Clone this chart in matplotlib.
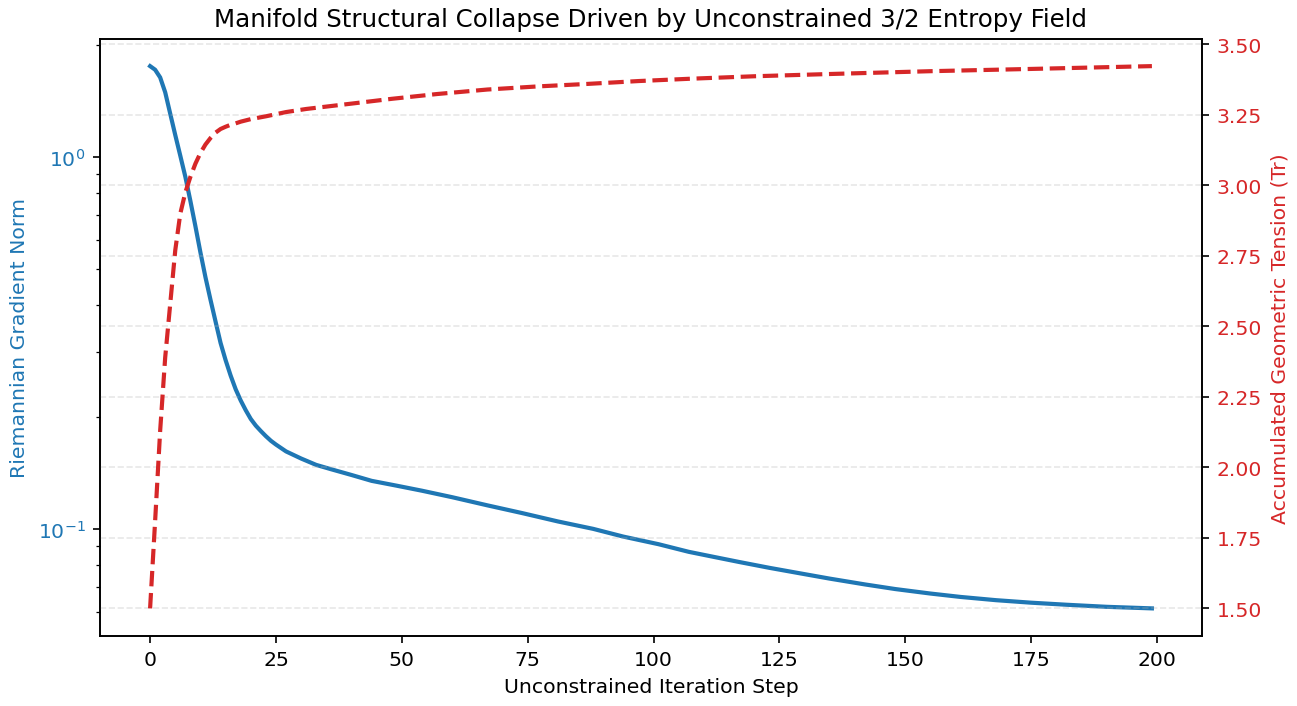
import matplotlib.pyplot as plt

# Riemannian gradient norm (left, log scale)
grad_steps = [0, 1, 2, 3, 4, 5, 6, 7, 8, 9, 10, 11, 12, 13, 14, 15, 16, 17, 18,
              19, 20, 21, 22, 23, 24, 25, 27, 30, 33, 36, 40, 44, 49, 54, 60,
              67, 74, 81, 88, 94, 101, 107, 112, 117, 123, 129, 135, 142, 148,
              155, 161, 168, 175, 182, 190, 199]
grad_norm = [1.759, 1.72, 1.64, 1.496, 1.31, 1.148, 1.01, 0.887, 0.764, 0.653,
             0.555, 0.476, 0.414, 0.362, 0.317, 0.285, 0.259, 0.238, 0.222,
             0.209, 0.198, 0.19, 0.1837, 0.178, 0.173, 0.169, 0.162, 0.155,
             0.149, 0.145, 0.14, 0.135, 0.131, 0.127, 0.122, 0.116, 0.1105,
             0.105, 0.1003, 0.0956, 0.0912, 0.087, 0.0843, 0.0817, 0.0788,
             0.0762, 0.0737, 0.0711, 0.0691, 0.0672, 0.0658, 0.0645, 0.0635,
             0.0627, 0.0619, 0.0613]

# Accumulated geometric tension (right, linear)
tension_steps = [0, 1, 2, 3, 4, 5, 6, 7, 8, 9, 10, 11, 12, 13, 14, 15, 16, 17,
                 18, 20, 23, 27, 31, 40, 48, 57, 67, 77, 87, 97, 107, 120, 135,
                 155, 175, 199]
tension = [1.5, 1.81, 2.13, 2.39, 2.58, 2.77, 2.9, 2.975, 3.03, 3.077, 3.115,
           3.145, 3.168, 3.187, 3.2, 3.208, 3.215, 3.22, 3.226, 3.235, 3.245,
           3.26, 3.271, 3.29, 3.307, 3.324, 3.34, 3.351, 3.36, 3.37, 3.378,
           3.387, 3.395, 3.405, 3.413, 3.423]

BLUE = "#1f77b4"
RED = "#d62728"

plt.rcParams["font.size"] = 9.8

fig, ax1 = plt.subplots(figsize=(1297 / 150, 707 / 150), dpi=150)
fig.subplots_adjust(left=100 / 1297, right=1202 / 1297, top=1 - 40 / 707, bottom=1 - 636.5 / 707)

ax1.plot(grad_steps, grad_norm, color=BLUE, linewidth=2)
ax1.set_yscale("log")
ax1.set_xlabel("Unconstrained Iteration Step")
ax1.set_ylabel("Riemannian Gradient Norm", color=BLUE)
ax1.tick_params(axis="y", labelcolor=BLUE)

ax2 = ax1.twinx()
ax2.plot(tension_steps, tension, color=RED, linewidth=2, linestyle="--")
ax2.set_ylabel("Accumulated Geometric Tension (Tr)", color=RED)
ax2.tick_params(axis="y", labelcolor=RED)
ax2.grid(True, linestyle="--", alpha=0.3)

ax1.set_title("Manifold Structural Collapse Driven by Unconstrained 3/2 Entropy Field")

fig.savefig("out.png", dpi=150)
plt.close(fig)
